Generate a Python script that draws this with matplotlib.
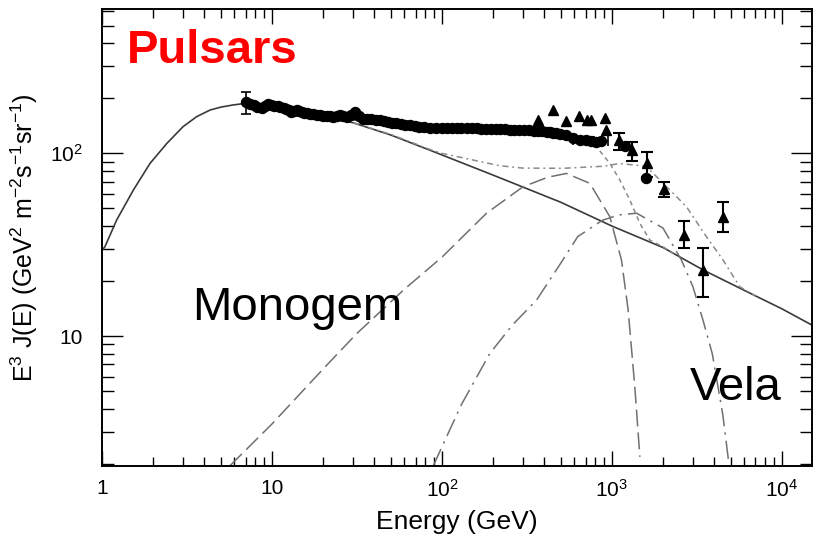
import numpy as np
import matplotlib
matplotlib.use("Agg")
import matplotlib.pyplot as plt
from matplotlib.ticker import FixedLocator, FixedFormatter, LogLocator, NullFormatter

plt.rcParams['font.family'] = ['Liberation Sans', 'DejaVu Sans']
plt.rcParams['mathtext.default'] = 'regular'

# background (secondary + primary) model, solid
bg_E = [1, 1.04, 1.22, 1.53, 1.915, 2.4, 3.0, 3.6, 4.32, 5.0, 5.92, 6.77, 8, 10, 15, 20, 30,
        50, 85, 100, 200, 500, 1000, 2000, 3443, 6000, 10000, 15000]
bg_y = [29.5, 30.8, 43.2, 63, 88, 113, 140, 158.6, 172.5, 179, 184, 187, 186, 181, 169, 160, 147,
        126, 104, 98, 76, 54, 40, 30.5, 23, 17.8, 14.1, 11.5]

# Monogem contribution (long dash)
mono_E = [5.66, 10, 20, 31.5, 60, 100, 183, 300, 420, 541, 742, 973, 1140, 1247, 1365, 1462]
mono_y = [1.95, 3.3, 6.6, 10.3, 18, 27, 47, 65.6, 74, 77.6, 68.5, 45, 26, 13.9, 5.28, 2.18]

# Vela contribution (dash-dot)
vela_E = [89, 130, 191, 260, 360, 500, 630, 880, 1100, 1400, 2000, 2570, 3000, 3440, 3900, 4500, 4900]
vela_y = [1.95, 4.2, 8.0, 11.5, 15.7, 25, 35, 43, 46, 47, 39, 26, 18.6, 12.2, 8.0, 3.7, 1.95]

# background + Monogem (dotted), mostly hidden under the data
totm_E = [30, 50, 100, 200, 300, 500, 600, 700, 812, 973, 1114, 1276, 1462, 1674, 2000, 2300]
totm_y = [152, 144, 135, 134, 133, 129, 124, 117, 108.7, 88, 71.5, 55.5, 41.4, 33.5, 30.8, 28.3]

# background + Vela (dash-dot, light)
totv_E = [30, 50, 85, 100, 160, 219, 300, 517, 700, 900, 1114, 1400, 1600, 2100, 2750, 3600, 4520,
          5660, 7000]
totv_y = [147, 127, 105, 100, 91, 85.5, 83, 82.8, 84, 85, 88, 86, 84.5, 65.6, 51, 35, 26,
          18.6, 16.6]

# circles
circ_E = [7.0, 7.4, 7.8, 8.2, 8.7, 9.1, 9.5, 9.9, 10.3, 10.8, 11.2, 11.7, 12.1, 12.6, 13.0, 13.5,
          14.0, 14.5, 15.0, 15.5, 16.0, 16.7, 17.5, 18.3, 19.1, 20, 21, 22, 23, 24, 25, 26.2,
          27.5, 29, 30.6, 32.4, 34.4, 36.4, 38.5, 40.7, 43, 45.5, 48, 51, 54, 57.5, 61, 65,
          69, 73, 78, 85, 92, 100, 107, 115, 122, 130, 140, 150, 160, 170, 182, 195, 207, 220,
          235, 250, 267, 285, 305, 325, 347, 370, 390, 413, 430, 450, 472, 495, 541, 590, 648,
          700, 759, 810, 868, 1200, 1590]
circ_y = [190, 186, 183, 180, 176, 182, 186, 184, 182, 181, 180, 177, 175, 172, 169, 171,
          172, 170, 168, 167, 166, 165, 164, 163, 162, 161, 160, 160, 159, 160, 162, 160,
          158, 163, 168, 160, 155, 155, 154, 153, 152, 150, 149, 147, 146, 145, 143, 142,
          141, 140, 139, 138, 137, 137, 137, 137, 137, 137, 137, 137, 137, 136, 136, 136, 136, 136,
          136, 135, 135, 135, 134, 134, 133, 133, 132, 131, 131, 130, 129, 128, 126, 122, 118,
          118, 117, 116, 117, 109, 73]
circ_err_E = [7]
circ_err_y = [190]
circ_err_lo = [164]
circ_err_hi = [217]
circ_xerr_E = [648, 868]
circ_xerr_y = [118, 117]
circ_xerr_lo = [590, 790]
circ_xerr_hi = [710, 950]

# triangles
tri_E = [367, 450, 534, 641, 710, 759, 910, 920, 1105, 1306, 1600, 2024, 2652, 3443, 4520]
tri_y = [152, 173, 151, 160, 153, 153, 157, 135, 118, 104, 88, 63.6, 35.7, 23, 45]
tri_err_E = [1105, 1306, 1600, 2024, 2652, 3443, 4520]
tri_err_y = [118, 104, 88, 63.6, 35.7, 23, 45]
tri_err_lo = [104, 91, 74.5, 58, 30.2, 16.3, 37.2]
tri_err_hi = [130, 116, 102, 70, 42.6, 30.4, 54]

fig = plt.figure(figsize=(8.13, 5.42), dpi=100)
ax = fig.add_axes([0.1255, 0.1402, 0.8729, 0.8426])

ax.plot(bg_E, bg_y, color='#3a3a3a', lw=1.2)
ax.plot(mono_E, mono_y, color='#707070', lw=1.1, dashes=(11, 4))
ax.plot(vela_E, vela_y, color='#707070', lw=1.1, dashes=(12, 4, 1.5, 4))
ax.plot(totm_E, totm_y, color='#8a8a8a', lw=1.1, dashes=(3, 2.5))
ax.plot(totv_E, totv_y, color='#8a8a8a', lw=1.1, dashes=(4, 2.5, 1.2, 2.5))

ax.plot(circ_E, circ_y, 'o', color='black', ms=7.2)
cy = np.array(circ_err_y)
ax.errorbar(circ_err_E, cy, yerr=[cy - np.array(circ_err_lo), np.array(circ_err_hi) - cy],
            fmt='none', ecolor='black', elinewidth=1.2, capsize=3.5, capthick=1.2)
xy = np.array(circ_xerr_y)
xe = np.array(circ_xerr_E)
ax.errorbar(xe, xy, xerr=[xe - np.array(circ_xerr_lo), np.array(circ_xerr_hi) - xe],
            fmt='none', ecolor='black', elinewidth=1.2, capsize=3.5, capthick=1.2)

ax.plot(tri_E, tri_y, '^', color='black', ms=7.2)
te = np.array(tri_err_E)
ty = np.array(tri_err_y)
ax.errorbar(te, ty, yerr=[ty - np.array(tri_err_lo), np.array(tri_err_hi) - ty],
            fmt='none', ecolor='black', elinewidth=1.5, capsize=4, capthick=1.5)

ax.set_xscale('log')
ax.set_yscale('log')
ax.set_xlim(1, 15000)
ax.set_ylim(1.943, 614)

ax.xaxis.set_major_locator(FixedLocator([1, 10, 100, 1000, 10000]))
ax.xaxis.set_major_formatter(FixedFormatter(['1', '10', r'$10^2$', r'$10^3$', r'$10^4$']))
ax.yaxis.set_major_locator(FixedLocator([10, 100]))
ax.yaxis.set_major_formatter(FixedFormatter(['10', r'$10^2$']))
ax.xaxis.set_minor_locator(LogLocator(base=10, subs=np.arange(2, 10)))
ax.yaxis.set_minor_locator(LogLocator(base=10, subs=np.arange(2, 10)))
ax.xaxis.set_minor_formatter(NullFormatter())
ax.yaxis.set_minor_formatter(NullFormatter())

ax.tick_params(which='both', direction='in', top=True, right=True, width=1.0, labelsize=15)
ax.tick_params(axis='x', which='major', length=11, pad=9)
ax.tick_params(axis='x', which='minor', length=6.5)
ax.tick_params(axis='y', which='major', length=15, pad=14)
ax.tick_params(axis='y', which='minor', length=8.5)
for s in ax.spines.values():
    s.set_linewidth(1.4)

ax.set_xlabel('Energy (GeV)', fontsize=19, labelpad=7)
ax.set_ylabel(r'E$^3$ J(E) (GeV$^2$ m$^{-2}$s$^{-1}$sr$^{-1}$)', fontsize=18, labelpad=7)

ax.text(0.035, 0.882, 'Pulsars', transform=ax.transAxes, color='#ff0000', fontsize=34,
        fontweight='bold', va='baseline')
ax.text(0.127, 0.3197, 'Monogem', transform=ax.transAxes, fontsize=34, va='baseline')
ax.text(0.828, 0.1445, 'Vela', transform=ax.transAxes, fontsize=34, va='baseline')

plt.savefig('out.png', dpi=100)
